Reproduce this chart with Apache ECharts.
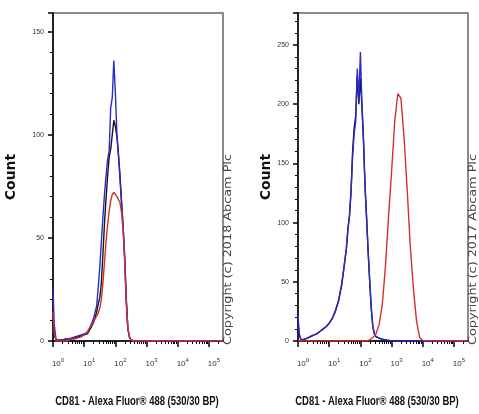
<!DOCTYPE html>
<html>
<head>
<meta charset="utf-8">
<script src="https://cdn.jsdelivr.net/npm/echarts/dist/echarts.min.js"></script>
<style>
  html, body { margin: 0; padding: 0; background: #fff; }
  #chart { width: 479px; height: 414px; }
</style>
</head>
<body>
<div id="chart"></div>
<script>
// x positions are in decades (log10 of fluorescence)
const leftX = [0, 0.04, 0.1, 0.2, 0.3, 0.4, 0.5, 0.6, 0.7, 0.8, 0.9, 1.0, 1.1, 1.2, 1.3, 1.4, 1.45, 1.5, 1.55, 1.6,
               1.65, 1.7, 1.75, 1.8, 1.85, 1.9, 1.95, 2.0, 2.05, 2.1, 2.15, 2.2, 2.25, 2.3, 2.35, 2.4, 2.45, 2.5, 2.6, 5.45];
const leftBlue  = [25, 8, 0.5, 0, 0.5, 0.5, 1, 1.5, 2, 2.5, 3, 3.5, 4, 7, 11, 17, 26, 36, 48, 60,
                   71, 80, 88, 92, 113, 118, 136, 120, 100, 90, 78, 66, 55, 40, 20, 6, 2, 0.5, 0, 0];
const leftBlack = [12, 3, 0.5, 0.5, 0.5, 1, 1, 1, 1.5, 2, 2.5, 3, 3.5, 6, 9, 14, 18, 21, 28, 42,
                   57, 69, 80, 89, 93, 100, 107, 104, 99, 90, 80, 67, 55, 40, 20, 6, 2, 0.5, 0, 0];
const leftRed   = [14, 4, 0, 0, 0, 0, 0.5, 1, 1, 1.5, 2, 3, 4.5, 7, 9.5, 12, 13.5, 16, 20, 28,
                   38, 48, 56, 63, 68, 71, 72, 72, 70, 70, 67, 62, 53, 37, 18, 6, 2, 0.5, 0, 0];

const rightX = [0, 0.04, 0.1, 0.2, 0.3, 0.4, 0.5, 0.6, 0.7, 0.8, 0.9, 1.0, 1.1, 1.2, 1.3, 1.4, 1.5,
                1.55, 1.6, 1.65, 1.7, 1.75, 1.8, 1.85, 1.9, 1.95, 2.0, 2.05, 2.1, 2.15, 2.2, 2.25, 2.3, 2.35, 2.4, 2.45, 2.5,
                2.6, 2.7, 2.8, 2.9, 3.0, 3.1, 3.2, 3.3, 3.4, 3.5, 3.6, 3.7, 3.8, 3.9, 4.0, 4.1, 5.45];
const rightBlue  = [22, 6, 1, 1.5, 2.5, 4, 5, 6, 8, 10, 12, 15, 19, 26, 34, 48, 68,
                    78, 95, 105, 125, 155, 175, 185, 230, 203, 244, 200, 170, 130, 104, 75, 50, 27, 12, 6, 4,
                    2.5, 1.5, 1, 0.5, 0, 0, 0, 0, 0, 0, 0, 0, 0, 0, 0, 0, 0];
const rightBlack = [16, 5, 1, 1.5, 2.5, 3.5, 5, 6, 8, 10, 12, 15, 19, 25, 34, 47, 67,
                    78, 94, 106, 127, 160, 180, 190, 224, 200, 222, 198, 168, 130, 103, 75, 50, 27, 12, 6, 3.5,
                    2.5, 1.5, 1, 0.5, 0, 0, 0, 0, 0, 0, 0, 0, 0, 0, 0, 0, 0];
const rightRed   = [0, 0, 0, 0, 0, 0, 0, 0, 0, 0, 0, 0, 0, 0, 0, 0, 0,
                    0, 0, 0, 0, 0, 0, 0, 0, 0, 0, 0, 0, 0, 0, 0, 1, 1.5, 3, 4, 6,
                    14, 30, 62, 104, 143, 185, 209, 205, 172, 128, 80, 44, 17, 3, 0.5, 0, 0];

const decadeLabels = [0, 1, 2, 3, 4, 5];
const xTitle = 'CD81 - Alexa Fluor® 488 (530/30 BP)';
const copyLeft = 'Copyright (c) 2018 Abcam Plc';
const copyRight = 'Copyright (c) 2017 Abcam Plc';

const X_MAX = 5.45;
const minorTicks = [];
for (let d = 0; d <= 5; d++) {
    for (let k = 2; k <= 9; k++) {
        const v = d + Math.log10(k);
        if (v < X_MAX) minorTicks.push(v);
    }
}

const BLUE = '#2a2ac8', BLACK = '#151515', RED = '#d23030';
const SMALL = '"Liberation Sans", sans-serif';

function pairs(xs, ys) {
    return xs.map((x, i) => [x, ys[i]]);
}

function xAxes(gridIndex) {
    return [{
        gridIndex: gridIndex,
        type: 'value',
        min: 0,
        max: X_MAX,
        axisLine: { lineStyle: { color: '#000', width: 1.5 } },
        axisTick: { customValues: decadeLabels, length: 6, lineStyle: { color: '#000', width: 1.5 } },
        axisLabel: {
            customValues: decadeLabels,
            margin: 16,
            padding: [0, 0, 0, 10],
            formatter: v => '{b|10}{s|' + Math.round(v) + '}',
            rich: {
                b: { fontFamily: SMALL, fontSize: 8, color: '#333' },
                s: { fontFamily: SMALL, fontSize: 6, color: '#333', padding: [0, 0, 8, 0] }
            }
        },
        splitLine: { show: false }
    }, {
        gridIndex: gridIndex,
        type: 'value',
        min: 0,
        max: X_MAX,
        position: 'bottom',
        axisLine: { show: false },
        axisTick: { customValues: minorTicks, length: 3, lineStyle: { color: '#000', width: 1 } },
        axisLabel: { show: false },
        splitLine: { show: false }
    }];
}

function yAxis(gridIndex, max, gap) {
    return {
        gridIndex: gridIndex,
        type: 'value',
        min: 0,
        max: max,
        interval: 50,
        name: 'Count',
        nameLocation: 'middle',
        nameGap: gap,
        nameTextStyle: { fontFamily: 'DejaVu Sans', fontWeight: 'bold', fontSize: 14, color: '#111' },
        axisLine: { show: true, lineStyle: { color: '#000', width: 1.5 } },
        axisTick: { length: 5, lineStyle: { color: '#000', width: 1.5 } },
        minorTick: { show: true, splitNumber: 5, length: 3, lineStyle: { color: '#000', width: 1 } },
        axisLabel: { fontFamily: SMALL, fontSize: 7, color: '#333', margin: 9, showMaxLabel: false },
        splitLine: { show: false }
    };
}

function line(name, xAxisIndex, yAxisIndex, data, color) {
    return {
        name: name,
        type: 'line',
        xAxisIndex: xAxisIndex,
        yAxisIndex: yAxisIndex,
        data: data,
        symbol: 'none',
        lineStyle: { color: color, width: 1.4 },
        itemStyle: { color: color }
    };
}

function title(x) {
    return {
        type: 'text', x: x, y: 402, scaleX: 0.79,
        style: { text: xTitle, fontFamily: '"Liberation Sans", sans-serif', fontWeight: 'bold', fontSize: 12,
                 fill: '#111', align: 'center', verticalAlign: 'middle' }
    };
}

function copyright(x, text) {
    return {
        type: 'text', x: x, y: 345, rotation: Math.PI / 2, scaleX: 1.28,
        style: { text: text, fontFamily: 'DejaVu Sans', fontSize: 10,
                 fill: '#444', align: 'left', verticalAlign: 'middle' }
    };
}

const option = {
    animation: false,
    grid: [
        { left: 53, right: 256, top: 13, bottom: 73, show: true, borderColor: '#666', borderWidth: 1.5 },
        { left: 298, right: 11, top: 13, bottom: 73, show: true, borderColor: '#666', borderWidth: 1.5 }
    ],
    xAxis: xAxes(0).concat(xAxes(1)),
    yAxis: [yAxis(0, 159, 35), yAxis(1, 277, 25)],
    series: [
        line('black', 0, 0, pairs(leftX, leftBlack), BLACK),
        line('blue', 0, 0, pairs(leftX, leftBlue), BLUE),
        line('red', 0, 0, pairs(leftX, leftRed), RED),
        line('black', 2, 1, pairs(rightX, rightBlack), BLACK),
        line('blue', 2, 1, pairs(rightX, rightBlue), BLUE),
        line('red', 2, 1, pairs(rightX, rightRed), RED)
    ],
    graphic: [
        title(137),
        title(377),
        copyright(228, copyLeft),
        copyright(473, copyRight)
    ]
};

const chart = echarts.init(document.getElementById('chart'));
chart.setOption(option);
</script>
</body>
</html>
